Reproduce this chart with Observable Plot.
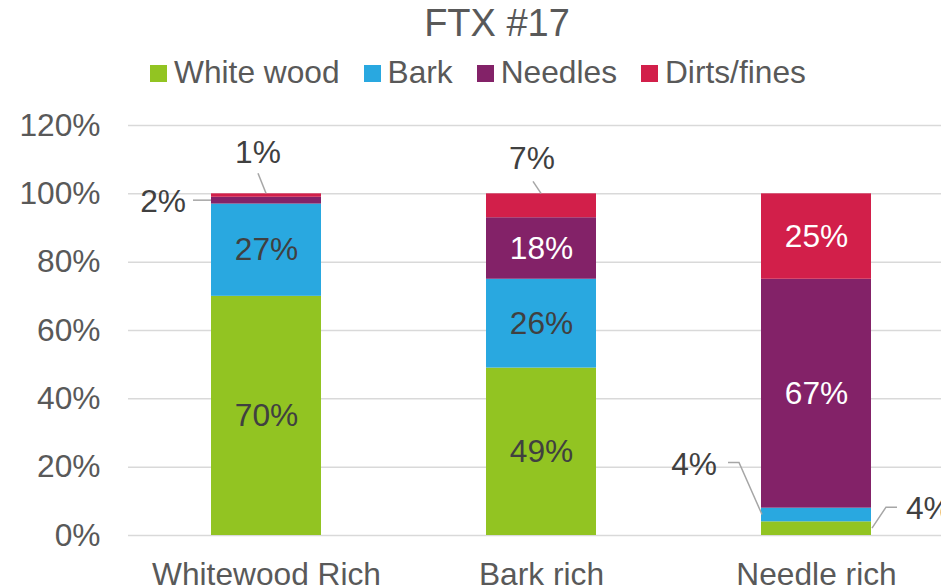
<!DOCTYPE html>
<html>
<head>
<meta charset="utf-8">
<script src="https://cdn.jsdelivr.net/npm/d3@7"></script>
<script src="https://cdn.jsdelivr.net/npm/@observablehq/plot@0.6"></script>
<style>
  html, body { margin: 0; padding: 0; background: #fff; overflow: hidden; }
  #wrap { position: relative; width: 941px; height: 588px; font-family: "Liberation Sans", Arial, sans-serif; }
  #title { position: absolute; left: 0; width: 994px; top: 4px; text-align: center; font-size: 38px; line-height: 38px; color: #595959; }
  #legend { position: absolute; left: 150px; top: 57px; display: flex; align-items: center; font-size: 31.7px; line-height: 31.7px; color: #595959; white-space: nowrap; }
  #legend .sw { width: 17px; height: 17px; margin-right: 7px; margin-top: 2px; }
  #legend .lb { margin-right: 24px; }
  #chart { position: absolute; left: 0; top: 100px; }
  #chart svg text { font-family: "Liberation Sans", Arial, sans-serif; font-size: 31.7px; }
</style>
</head>
<body>
<div id="wrap">
  <div id="title"></div>
  <div id="legend"></div>
  <div id="chart"></div>
</div>
<script>
// ---- data ----
const chartTitle = "FTX #17";
const categories = ["Whitewood Rich", "Bark rich", "Needle rich"];
const seriesNames = ["White wood", "Bark", "Needles", "Dirts/fines"];
const whiteWood = [70, 49, 4];
const bark = [27, 26, 4];
const needles = [2, 18, 67];
const dirts = [1, 7, 25];
const yTicks = [0, 20, 40, 60, 80, 100, 120];

// ---- styles ----
const colors = ["#92C422", "#29A8E0", "#832268", "#D21F4A"];
const labelColors = ["#404040", "#404040", "#ffffff", "#ffffff"];

// build stacked table
const seriesValues = [whiteWood, bark, needles, dirts];
const segments = [];
categories.forEach((cat, i) => {
  let cum = 0;
  seriesNames.forEach((s, j) => {
    const v = seriesValues[j][i];
    segments.push({category: cat, series: s, si: j, value: v, y1: cum, y2: cum + v});
    cum += v;
  });
});

// callout layout (labels drawn outside bars with leader lines; pixel offsets)
const callouts = [
  {category: "Whitewood Rich", series: "Dirts/fines", edge: "center", at: "top", line: [[0, 0], [-8, -20]], label: [-8, -41], anchor: "middle"},
  {category: "Whitewood Rich", series: "Needles", edge: "left", at: "mid", line: [[0, 0], [-18, 0]], label: [-25, 1], anchor: "end"},
  {category: "Bark rich", series: "Dirts/fines", edge: "center", at: "top", line: [[0, 0], [-8, -12]], label: [-9, -35], anchor: "middle"},
  {category: "Needle rich", series: "Bark", edge: "left", at: "mid", line: [[1, 0], [-22, -52], [-33, -52]], label: [-44, -51], anchor: "end"},
  {category: "Needle rich", series: "White wood", edge: "right", at: "mid", line: [[1, 0], [15, -21], [26, -21]], label: [35, -20], anchor: "start"}
];
const isCallout = d => callouts.some(c => c.category === d.category && c.series === d.series);
const inside = segments.filter(d => !isCallout(d));

// title & legend
document.getElementById("title").textContent = chartTitle;
const legend = d3.select("#legend");
seriesNames.forEach((s, j) => {
  legend.append("div").attr("class", "sw").style("background", colors[j]);
  legend.append("span").attr("class", "lb").text(s);
});

const plot = Plot.plot({
  width: 941,
  height: 488,
  marginTop: 25,
  marginBottom: 53,
  marginLeft: 128,
  marginRight: 0,
  style: {fontFamily: "'Liberation Sans', Arial, sans-serif", fontSize: "31.7px", color: "#595959", background: "white", overflow: "visible"},
  x: {domain: categories, range: [128, 953], paddingInner: 0.6, paddingOuter: 0.3, tickSize: 0, tickPadding: 27, label: null},
  y: {domain: [0, 120], ticks: yTicks, tickFormat: d => d + "%", tickSize: 0, tickPadding: 28, label: null},
  color: {domain: seriesNames, range: colors},
  marks: [
    Plot.ruleY(yTicks, {stroke: "#d9d9d9", strokeWidth: 1.5}),
    Plot.barY(segments, {x: "category", y1: "y1", y2: "y2", fill: "series"}),
    Plot.text(inside.filter(d => labelColors[d.si] !== "#ffffff"), {x: "category", y: d => (d.y1 + d.y2) / 2, text: d => d.value + "%", fill: "#404040", fontSize: 31.7}),
    Plot.text(inside.filter(d => labelColors[d.si] === "#ffffff"), {x: "category", y: d => (d.y1 + d.y2) / 2, text: d => d.value + "%", fill: "#ffffff", fontSize: 31.7})
  ]
});
document.getElementById("chart").appendChild(plot);

// callouts via the plot's own scales
const sx = plot.scale("x"), sy = plot.scale("y");
const bw = sx.bandwidth;
const g = d3.select(plot).append("g");
callouts.forEach(c => {
  const seg = segments.find(d => d.category === c.category && d.series === c.series);
  const x0 = sx.apply(c.category);
  const ax = c.edge === "left" ? x0 : c.edge === "right" ? x0 + bw : x0 + bw / 2;
  const ay = sy.apply(c.at === "top" ? seg.y2 : (seg.y1 + seg.y2) / 2);
  g.append("path")
    .attr("d", "M" + c.line.map(p => (ax + p[0]) + "," + (ay + p[1])).join("L"))
    .attr("fill", "none").attr("stroke", "#a6a6a6").attr("stroke-width", 1.5);
  g.append("text")
    .attr("x", ax + c.label[0]).attr("y", ay + c.label[1])
    .attr("dy", "0.35em").attr("text-anchor", c.anchor)
    .attr("fill", "#404040").attr("font-size", 31.7)
    .text(seg.value + "%");
});
</script>
</body>
</html>
